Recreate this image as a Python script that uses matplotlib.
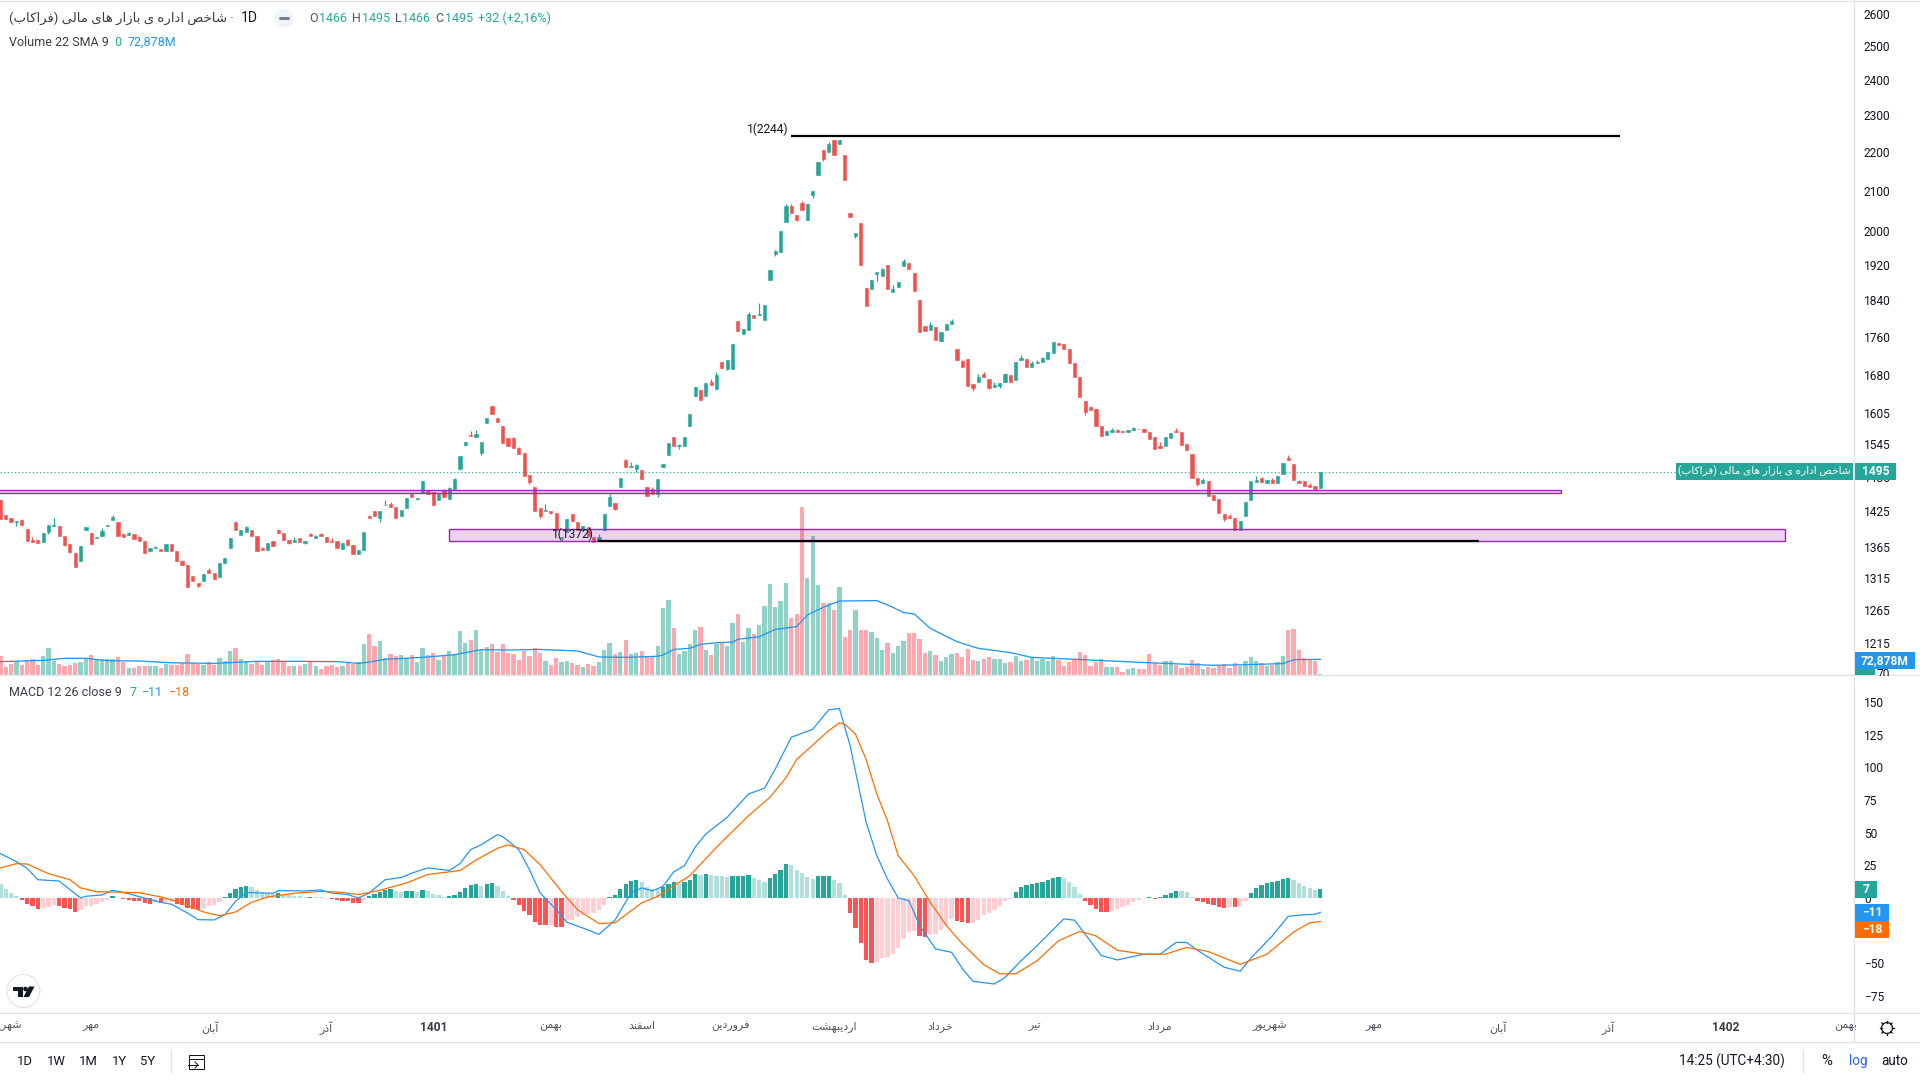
import matplotlib
matplotlib.use("Agg")
import matplotlib.pyplot as plt
from matplotlib.lines import Line2D
from matplotlib.patches import Rectangle, Circle, Polygon
from matplotlib.ticker import NullLocator

plt.rcParams['font.family'] = ['Roboto', 'DejaVu Sans']

# ---------------- data ----------------
opens = [1444,1418,1413,1407,1410,1394,1376,1376,1373,1390,
 1400,1400,1383,1370,1355,1341,1393,1388,1380,1383,
 1400,1410,1407,1386,1385,1386,1381,1375,1358,1363,
 1361,1358,1370,1358,1341,1336,1318,1307,1309,1327,
 1323,1316,1338,1363,1407,1385,1390,1393,1383,1363,
 1360,1375,1393,1388,1376,1373,1380,1372,1386,1380,
 1386,1381,1375,1375,1361,1376,1368,1353,1360,1417,
 1425,1413,1435,1437,1432,1417,1430,1455,1446,1456,
 1460,1458,1444,1462,1446,1464,1500,1544,1562,1559,
 1529,1585,1618,1595,1580,1557,1557,1538,1529,1489,
 1467,1430,1425,1425,1422,1380,1390,1420,1407,1393,
 1398,1381,1375,1393,1434,1439,1467,1516,1503,1500,
 1498,1467,1464,1455,1504,1525,1559,1541,1542,1580,
 1638,1650,1638,1666,1652,1707,1692,1692,1793,1765,
 1774,1806,1806,1796,1884,1945,1949,2021,2061,2038,
 2068,2026,2088,2140,2205,2200,2232,2221,2192,2043,
 1988,2019,1866,1864,1898,1893,1919,1857,1868,1917,
 1924,1900,1839,1783,1774,1780,1751,1774,1787,1734,
 1709,1713,1662,1666,1682,1672,1656,1658,1666,1680,
 1670,1711,1713,1696,1705,1707,1713,1725,1747,1745,
 1734,1705,1676,1628,1616,1612,1580,1562,1568,1572,
 1570,1568,1572,1574,1574,1568,1559,1542,1542,1557,
 1570,1568,1546,1527,1483,1474,1478,1453,1446,1420,
 1417,1413,1393,1417,1444,1476,1483,1474,1480,1474,
 1490,1520,1509,1478,1478,1471,1469,1466]
closes = [1412,1412,1407,1409,1401,1375,1373,1372,1388,1401,
 1401,1383,1368,1356,1332,1366,1398,1370,1381,1391,
 1401,1415,1383,1381,1388,1378,1375,1355,1363,1365,
 1358,1370,1358,1341,1336,1300,1309,1302,1321,1323,
 1313,1338,1347,1380,1393,1393,1398,1383,1358,1360,
 1372,1367,1388,1376,1372,1376,1373,1375,1383,1383,
 1383,1373,1373,1363,1372,1368,1353,1360,1390,1413,
 1417,1425,1436,1432,1413,1427,1448,1450,1448,1478,
 1455,1436,1455,1450,1466,1482,1523,1549,1560,1564,
 1549,1595,1603,1587,1548,1542,1538,1527,1487,1476,
 1425,1417,1427,1422,1393,1381,1412,1408,1393,1400,
 1383,1373,1381,1420,1450,1429,1483,1503,1505,1507,
 1482,1451,1455,1482,1509,1548,1542,1544,1559,1603,
 1656,1630,1664,1660,1680,1694,1711,1744,1772,1776,
 1808,1800,1808,1828,1907,1952,2000,2061,2043,2026,
 2051,2066,2098,2173,2181,2221,2192,2232,2127,2033,
 1995,1919,1826,1884,1903,1910,1864,1864,1880,1928,
 1910,1859,1770,1772,1785,1753,1770,1787,1793,1711,
 1696,1658,1654,1676,1676,1654,1660,1664,1682,1666,
 1707,1715,1696,1705,1707,1715,1727,1749,1742,1734,
 1705,1676,1636,1607,1610,1580,1561,1570,1572,1568,
 1569,1572,1575,1573,1568,1555,1537,1538,1559,1566,
 1568,1544,1534,1483,1473,1480,1451,1444,1422,1412,
 1413,1393,1408,1441,1478,1480,1476,1479,1474,1487,
 1510,1516,1480,1474,1469,1467,1463,1495]
wick_highs = {4:1412,6:1382,10:1414,19:1396,21:1418,24:1390,26:1383,29:1366,34:1343,39:1330,
 46:1400,49:1365,52:1395,55:1381,58:1388,59:1385,60:1388,62:1380,65:1378,69:1418,72:1444,73:1441,
 83:1464,84:1467,85:1483,88:1570,89:1572,96:1559,97:1540,102:1437,112:1386,114:1455,117:1518,
 118:1512,119:1509,122:1467,127:1546,133:1672,134:1686,140:1813,142:1833,145:1954,147:2066,
 148:2066,150:2073,155:2226,165:1912,167:1873,169:1933,174:1791,178:1798,180:1711,183:1682,
 184:1686,186:1666,188:1684,191:1721,193:1709,194:1711,195:1717,204:1618,208:1575,209:1574,
 212:1578,217:1549,220:1576,225:1483,230:1420,235:1487,236:1485,238:1483,241:1525,243:1480,245:1475}
wick_lows = {3:1400,9:1386,12:1367,13:1355,37:1300,54:1370,57:1370,71:1407,78:1444,87:1542,90:1525,
 99:1473,101:1413,103:1420,105:1375,115:1427,119:1494,123:1450,127:1537,136:1690,145:1940,149:2023,
 152:2081,154:2176,160:1983,164:1882,182:1648,185:1652,187:1654,203:1601,224:1469,229:1408}

volume = [88,37,51,65,46,70,74,46,88,126,
 65,51,42,46,56,60,74,93,74,74,
 74,74,84,60,33,34,42,42,40,42,
 33,51,46,46,56,98,56,51,46,60,
 46,79,65,112,126,74,60,51,60,46,
 65,70,74,60,42,42,42,51,65,42,
 28,42,46,37,42,56,51,60,144,191,
 135,158,79,98,88,93,79,93,60,126,
 93,102,70,88,112,98,205,149,163,209,
 116,130,144,107,144,102,98,70,112,88,
 126,102,65,46,79,60,65,56,46,37,
 51,42,60,116,149,98,107,163,98,102,
 112,88,88,135,312,349,219,98,112,144,
 209,223,116,93,144,149,135,242,284,153,
 219,191,233,321,423,316,344,428,265,284,
 781,451,646,419,335,335,302,409,177,209,
 302,209,209,200,172,116,149,102,135,158,
 195,195,167,102,112,93,65,84,98,102,
 84,121,70,65,74,84,74,74,56,60,
 88,65,70,79,65,74,65,88,70,42,
 60,74,107,93,42,60,74,37,37,37,
 14,28,33,28,28,98,56,46,65,65,
 46,33,37,70,56,28,37,33,42,51,
 33,56,42,65,84,65,56,42,46,60,
 88,209,214,116,79,74,65,5]
vol_sma_bar = [0,8,12,16,20,26,32,40,48,56,63,67,69,72,79,85,90,95,101,108,112,117,123,
 124,126,129,131,134,137,138,142,145,149,151,154,157,164,167,169,171,174,179,183,189,193,
 201,208,215,227,233,240,242,247]
vol_sma = [62,68,77.5,77.5,66.6,65,57,54,63.5,63.5,62,54,60,73,82,94.5,118,116,119,111.6,84,82,87,
 93,119,124,142.6,150,153,166,178,212,225,279,315,344,346,315,290,284,217,155,124,104,82,
 73,65,57,45,48,53,71,72.878]

hist = [11,7,4,1.8,-1.3,-4.3,-6.4,-8.2,-7.4,-6.6,
 -5.7,-6.1,-7.4,-8.2,-10.5,-8.9,-5.9,-5.9,-4.3,-2.8,
 -1.3,1.8,0.3,-0.5,-1.3,-2,-2.3,-3.6,-4.3,-3.4,
 -3.8,-3.4,-3.2,-4.3,-5,-7.4,-8.2,-8.9,-7.4,-5.9,
 -5,-2.8,0.5,4,7,8.7,9.4,8.7,6.4,4.8,
 4,3.3,4,3.3,2.6,1.8,1.8,0.9,1.1,1,
 1,0.3,-0.5,-1.3,-2,-2.4,-3.6,-3.8,-1.3,1.8,
 3.3,4.8,6.4,7,5.6,4.8,5.6,5.7,4.8,6.4,
 5.6,3.3,2.6,1,1.8,2.6,4.8,7.9,10.2,11,
 9.4,10.8,11.1,9.4,5.6,1.8,-1.3,-5,-9.7,-12.8,
 -18,-20.5,-21,-20.8,-22,-22.3,-16.6,-16.6,-14.3,-12.8,
 -12,-11.2,-8.9,-5,0.5,2.6,7,11,13.3,14,
 12.5,8.7,7,6.6,8.4,10.7,12.2,10.7,12.2,13.8,
 18.4,17.6,18.4,17.6,16.8,16.8,16,16.5,16.8,17,
 17.2,15.3,13.8,12.2,15.3,18.4,21.4,26,25.3,21.4,
 19,16,14.5,16.6,16.8,17,13.8,11.5,2.3,-11.5,
 -23,-34.4,-47.4,-49.7,-49,-46,-45,-42.9,-38,-31.4,
 -26,-25,-29,-29.8,-28.3,-27.5,-24.5,-20.7,-16,-17.6,
 -18,-19,-19,-16.8,-13,-11.5,-9.2,-6.1,-2.3,-0.8,
 4.6,8.4,10,10.7,11.5,12.2,13.8,15.3,16,15.3,
 12.2,8.4,3,-2.3,-5.4,-8.4,-10.4,-10.8,-10,-8.4,
 -6.9,-5.4,-3,-1.5,0.3,0.4,-0.4,0.4,2.3,3.8,
 5.4,5.4,4.6,0.7,-2.3,-3,-4.6,-5.4,-6.9,-7.6,
 -6.6,-7,-6.1,-2.3,3.8,7.7,10,11.5,12.2,13,
 14.5,15.3,13.8,11.5,9.2,7.7,6.1,7]

macd_bar = [0,3,5,7,11,13,15,16,19,21,24,28,30,32,35,37,40,42,44,46,49,51,52,57,60,62,65,67,69,72,75,77,78,80,84,86,88,90,93,94,97,99,101,104,106,109,112,115,118,120,122,124,
 126,128,130,132,136,140,143,145,148,152,155,157,159,162,164,166,168,170,172,175,178,180,182,186,188,191,194,199,201,206,209,214,217,220,222,224,229,232,234,238,241,244,246,247]
macd_val = [33.9,27.8,22.7,14,13,6.4,0,1.3,2.3,5.9,3.3,-1.3,-3.3,-4.8,-11.5,-16.6,-16.8,-12.8,-2.6,4.3,3.8,3.6,5.6,5.4,6.1,3.8,2.6,0,3.8,14,15.6,19,20.4,23,21,26.3,37,40.8,48.5,47,37,21.7,3.8,-8.9,-18.6,-23,-27.8,-17,3.8,7.7,5.4,9,
 20,24.7,38.8,49,61.7,79.6,84,98.7,123,129,144,145,116.6,58,32.4,14.5,0,-2,-21,-39,-41.6,-54,-63.8,-65.8,-60.7,-48,-36.5,-16,-17,-44,-47.4,-43,-43,-34,-34,-40,-53,-56,-46,-29,-14,-12.8,-12.5,-11]
signal_bar = [0,3,5,9,13,15,18,21,26,30,34,38,41,44,47,50,55,60,64,67,71,76,80,86,89,93,95,98,101,105,108,112,115,120,123,
 126,129,134,140,144,147,149,155,157,158,160,162,164,166,168,171,174,177,180,184,187,190,194,198,202,205,209,214,218,222,226,232,237,242,245,247]
signal_val = [23,26.3,26,18.6,14,7.7,4.8,4.6,4,0.8,-3.8,-10.7,-13.5,-10.7,-3.3,0.8,3.6,5,4.3,2.6,5.9,11.5,18,21,29,38,40.6,37,25.5,5,-9,-19.6,-19,-3.8,1.3,
 9.4,17,38.8,63,77,92,106,128,134,133,125.5,106,79.6,59,32.4,17,-3.3,-21,-35,-51,-58,-58,-48,-32.7,-25.5,-29,-40,-43,-43,-37.8,-41,-50.8,-43,-26,-19,-18]

price_ticks = [2600,2500,2400,2300,2200,2100,2000,1920,1840,1760,1680,1605,1545,1485,1425,1365,1315,1265,1215]
macd_ticks = [150,125,100,75,50,25,0,-25,-50,-75]
month_pos = [0.9,17,39.2,60.9,81,102.9,120,136.7,156,175.8,193.6,217,237.6,257,280.2,300.8,322.9,345.4]
month_names = ['شهریور','مهر','آبان','آذر','1401','بهمن','اسفند','فروردین','اردیبهشت','خرداد','تیر','مرداد','شهریور','مهر','آبان','آذر','1402','بهمن']
instrument = 'شاخص اداره ی بازار های مالی (فراکاب)'
last_close = 1495
level_high = 2244
level_low = 1374
zone_upper = (1456, 1461.4)
zone_lower = (1374, 1394)

assert len(opens) == len(closes) == len(volume) == len(hist) == 248
assert len(macd_bar) == len(macd_val) and len(signal_bar) == len(signal_val) and len(vol_sma_bar) == len(vol_sma)

# ---------------- shaping for Persian text (matplotlib does not shape) ----------------
FORMS = {'ا':(0xFE8D,0xFE8E),'آ':(0xFE81,0xFE82),'د':(0xFEA9,0xFEAA),'ذ':(0xFEAB,0xFEAC),
 'ر':(0xFEAD,0xFEAE),'ز':(0xFEAF,0xFEB0),'و':(0xFEED,0xFEEE),
 'ب':(0xFE8F,0xFE90,0xFE91,0xFE92),'ت':(0xFE95,0xFE96,0xFE97,0xFE98),'خ':(0xFEA5,0xFEA6,0xFEA7,0xFEA8),
 'س':(0xFEB1,0xFEB2,0xFEB3,0xFEB4),
 'ش':(0xFEB5,0xFEB6,0xFEB7,0xFEB8),'ص':(0xFEB9,0xFEBA,0xFEBB,0xFEBC),'ف':(0xFED1,0xFED2,0xFED3,0xFED4),
 'ل':(0xFEDD,0xFEDE,0xFEDF,0xFEE0),'م':(0xFEE1,0xFEE2,0xFEE3,0xFEE4),'ن':(0xFEE5,0xFEE6,0xFEE7,0xFEE8),
 'ه':(0xFEE9,0xFEEA,0xFEEB,0xFEEC),'ی':(0xFBFC,0xFBFD,0xFBFE,0xFBFF),'ک':(0xFB8E,0xFB8F,0xFB90,0xFB91)}
def fa(s):
    if s.isdigit():
        return s
    out = []
    for i, c in enumerate(s):
        if c not in FORMS:
            out.append({'(':')', ')':'('}.get(c, c))
            continue
        f = FORMS[c]
        prev = s[i-1] if i > 0 else ''
        nxt = s[i+1] if i + 1 < len(s) else ''
        join_prev = prev in FORMS and len(FORMS[prev]) == 4
        join_next = nxt in FORMS and len(f) == 4
        if join_prev and join_next:
            g = f[3]
        elif join_prev:
            g = f[1]
        elif join_next:
            g = f[2]
        else:
            g = f[0]
        out.append(chr(g))
    return ''.join(reversed(out))

# ---------------- layout ----------------
W, H = 1920, 1080
AX_R, PANE_B, MACD_B, TIME_B = 1854, 675, 1013, 1041.5
PRICE_TOP, PRICE_BOT = 2644, 1169
MACD_TOP, MACD_BOT = 170.6, -88
XMIN, XMAX = -0.075, 346.86
GREEN, RED = '#26A69A', '#EF5350'
TXT = '#131722'
GREY = '#E0E3EB'
PURPLE = '#9C27B0'
px = 0.72  # points per pixel at dpi 100

fig = plt.figure(figsize=(W/100, H/100), dpi=100, facecolor='white')
def rect(x0, y0, x1, y1):
    return [x0/W, 1-y1/H, (x1-x0)/W, (y1-y0)/H]

ax_vol = fig.add_axes(rect(0, 0, AX_R, PANE_B), zorder=1)
ax = fig.add_axes(rect(0, 0, AX_R, PANE_B), zorder=2)
ax_m = fig.add_axes(rect(0, PANE_B, AX_R, MACD_B), zorder=2)
ui = fig.add_axes([0, 0, 1, 1], zorder=5)
ui.set_xlim(0, W); ui.set_ylim(H, 0); ui.axis('off'); ui.patch.set_visible(False)

idx = list(range(len(opens)))

# volume
vol_col = ['#8FD3C8' if c >= o else '#FFA7AE' for o, c in zip(opens, closes)]
ax_vol.bar(idx, volume, width=0.8, color=vol_col, linewidth=0)
ax_vol.plot(vol_sma_bar, vol_sma, color='#2196F3', lw=1.3*px)
ax_vol.set_xlim(XMIN, XMAX); ax_vol.set_ylim(0, 3139); ax_vol.axis('off')

# candles
ax.patch.set_visible(False)
ax.set_yscale('log')
for s in ax.spines.values():
    s.set_visible(False)
for i, (o, c) in enumerate(zip(opens, closes)):
    col = GREEN if c >= o else RED
    lo, hi = min(o, c), max(o, c)
    ax.vlines(i, wick_lows.get(i, lo), wick_highs.get(i, hi), color=col, lw=1*px*1.2, zorder=3)
    ax.bar(i, hi-lo, bottom=lo, width=0.6, color=col, edgecolor=col, linewidth=0.4, zorder=3)

# drawings
ax.add_patch(Rectangle((-1, zone_upper[0]), 293, zone_upper[1]-zone_upper[0], facecolor=PURPLE, alpha=0.2, lw=0, zorder=4))
ax.add_patch(Rectangle((-1, zone_upper[0]), 293, zone_upper[1]-zone_upper[0], fill=False, edgecolor=PURPLE, lw=1.4*px, zorder=4))
ax.add_patch(Rectangle((84, zone_lower[0]), 250, zone_lower[1]-zone_lower[0], facecolor=PURPLE, alpha=0.2, lw=0, zorder=4))
ax.add_patch(Rectangle((84, zone_lower[0]), 250, zone_lower[1]-zone_lower[0], fill=False, edgecolor=PURPLE, lw=1.4*px, zorder=4))
ax.hlines(level_high, 148, 303, color='black', lw=2.2*px, zorder=5)
ax.hlines(level_low, 111.8, 276.7, color='black', lw=2.2*px, zorder=5)
ax.hlines(last_close, XMIN, 313.5, color=GREEN, lw=1.2*px, linestyles=(0, (1, 2)), zorder=2)
ax.text(147.4, level_high*1.0075, '1(2244)', ha='right', va='center', fontsize=12*px, color=TXT, zorder=6)
ax.text(111, level_low*1.0085, '1(1372)', ha='right', va='center', fontsize=12*px, color=TXT, zorder=6)

ax.set_xlim(XMIN, XMAX); ax.set_ylim(PRICE_BOT, PRICE_TOP)
ax.xaxis.set_visible(False)
ax.yaxis.tick_right()
ax.set_yticks(price_ticks)
ax.set_yticklabels([str(t) for t in price_ticks])
ax.yaxis.set_minor_locator(NullLocator())
ax.tick_params(axis='y', length=0, pad=10*px, labelsize=12*px, labelcolor=TXT)

# MACD
ax_m.patch.set_visible(False)
for s in ax_m.spines.values():
    s.set_visible(False)
hist_col = []
for i, h in enumerate(hist):
    p = hist[i-1] if i else h
    if h >= 0:
        hist_col.append('#26A69A' if h > p else '#B2DFDB')
    else:
        hist_col.append('#FF5252' if h < p else '#FFCDD2')
ax_m.bar(idx, hist, width=0.8, color=hist_col, linewidth=0, zorder=2)
ax_m.plot(macd_bar, macd_val, color='#2196F3', lw=1.25*px, zorder=3)
ax_m.plot(signal_bar, signal_val, color='#FF6D00', lw=1.25*px, zorder=4)
ax_m.set_xlim(XMIN, XMAX); ax_m.set_ylim(MACD_BOT, MACD_TOP)
ax_m.yaxis.tick_right()
ax_m.set_yticks(macd_ticks)
ax_m.set_yticklabels([str(t).replace('-', '\u2212') for t in macd_ticks])
ax_m.tick_params(axis='y', length=0, pad=10*px, labelsize=12*px, labelcolor=TXT)
ax_m.set_xticks(month_pos)
ax_m.set_xticklabels([fa(m) for m in month_names])
ax_m.tick_params(axis='x', length=0, pad=8*px, labelsize=11*px, labelcolor='#50535E')
for t, m in zip(ax_m.get_xticklabels(), month_names):
    if m.isdigit():
        t.set_fontweight('bold'); t.set_fontsize(12*px); t.set_color('#3A3D46')

# ---------------- chrome ----------------
def hline(y, x0=0, x1=W, c=GREY, lw=1.4):
    ui.add_line(Line2D([x0, x1], [y, y], color=c, lw=lw*px))
def vline(x, y0, y1, c=GREY, lw=1.4):
    ui.add_line(Line2D([x, x], [y0, y1], color=c, lw=lw*px))
hline(0.8); hline(PANE_B); hline(MACD_B); hline(TIME_B)
vline(AX_R, 0, TIME_B)
vline(171, 1050, 1072); vline(1803, 1050, 1072)

def T(x, y, s, size=12, color=TXT, ha='left', weight='normal', z=8):
    return ui.text(x, y, s, fontsize=size*px, color=color, ha=ha, va='center', fontweight=weight, zorder=z)

TEAL = '#22AB94'
T(9, 18, fa(instrument) + ' · ', 13.3, '#3A3D46')
T(241, 18, '1D', 14, TXT)
ui.add_patch(Circle((284, 18), 9.5, facecolor='#F0F3FA', edgecolor='none'))
ui.add_line(Line2D([280, 288], [18, 18], color='#787B86', lw=3*px, solid_capstyle='round'))
for x, s, c in [(309,'O','#50535E'),(319,'1466',TEAL),(352,'H','#50535E'),(362,'1495',TEAL),
                (395,'L','#50535E'),(402,'1466',TEAL),(435.5,'C','#50535E'),(445,'1495',TEAL),
                (477.5,'+32 (+2,16%)',TEAL)]:
    T(x, 18, s, 12.5, c)
T(9, 42, 'Volume 22 SMA 9', 12.5, '#3A3D46')
T(114, 42, '0', 12.5, TEAL)
T(127, 42, '72,878M', 12.5, '#2196F3')
T(8.7, 692.7, 'MACD 12 26 close 9', 12.5, '#3A3D46')
T(129, 692.7, '7', 12.5, TEAL)
T(142, 692.7, '\u221211', 12.5, '#2196F3')
T(169, 692.7, '\u221218', 12.5, '#FF6D00')

# axis tags
def tag(x0, x1, y0, y1, s, color, text_x=None, ha='center', size=12, weight='bold'):
    ui.add_patch(Rectangle((x0, y0), x1-x0, y1-y0, facecolor=color, edgecolor='none', zorder=7))
    T((x0+x1)/2 if text_x is None else text_x, (y0+y1)/2, s, size, 'white', ha=ha, weight=weight)
tag(1676, 1852.6, 463, 480, fa(instrument), '#26A69A', size=10.5, weight='normal')
tag(1855, 1896, 463, 480, '1495', '#26A69A')
tag(1855, 1915, 652, 669, '72,878M', '#2196F3')
ui.add_patch(Rectangle((1855, 669), 20, 6, facecolor='#26A69A', edgecolor='none', zorder=7))
T(1877, 675, '70', 12)
ui.add_patch(Rectangle((1855, 675.8), 65, 12, facecolor='white', edgecolor='none', zorder=9))
tag(1855, 1877, 881, 897.7, '7', '#26A69A')
tag(1855, 1889, 904, 921, '\u221211', '#2196F3')
tag(1855, 1889, 921, 938, '\u221218', '#FF6D00')

# logo
ui.add_patch(Circle((23.4, 991), 16.5, facecolor='white', edgecolor='#E0E3EB', lw=1.2*px, zorder=8))
ui.add_patch(Polygon([(13,986.5),(23,986.5),(23,997),(18,997),(18,991),(13,991)], closed=True, facecolor='#131722', edgecolor='none', zorder=9))
ui.add_patch(Circle((25.5, 989), 2.3, facecolor='#131722', edgecolor='none', zorder=9))
ui.add_patch(Polygon([(29,986.5),(34.5,986.5),(29,997),(23.5,997)], closed=True, facecolor='#131722', edgecolor='none', zorder=9))

# bottom bar
for x, s in [(24.5,'1D'),(56,'1W'),(88,'1M'),(119,'1Y'),(148,'5Y')]:
    T(x, 1061.5, s, 13, TXT, ha='center')
ui.add_patch(Rectangle((189, 1055), 15, 14, fill=False, edgecolor=TXT, lw=1*px))
ui.add_line(Line2D([189, 204], [1059, 1059], color=TXT, lw=1*px))
ui.add_line(Line2D([188, 198], [1065, 1065], color=TXT, lw=1*px))
ui.add_line(Line2D([195, 198, 195], [1062, 1065, 1068], color=TXT, lw=1*px))
T(1679, 1061, '14:25 (UTC+4:30)', 13.5, TXT)
T(1827, 1061, '%', 15, TXT, ha='center')
T(1858, 1061, 'log', 13.5, '#2962FF', ha='center')
T(1895, 1061, 'auto', 13.5, TXT, ha='center')
# gear
ui.add_patch(Circle((1887, 1028), 5.5, fill=False, edgecolor=TXT, lw=1.3*px, zorder=8))
for dx, dy in [(0,7),(0,-7),(7,0),(-7,0),(5,5),(-5,5),(5,-5),(-5,-5)]:
    ui.add_line(Line2D([1887+dx*0.75, 1887+dx], [1028+dy*0.75, 1028+dy], color=TXT, lw=1.3*px))

fig.savefig('out.png', dpi=100, facecolor='white')
